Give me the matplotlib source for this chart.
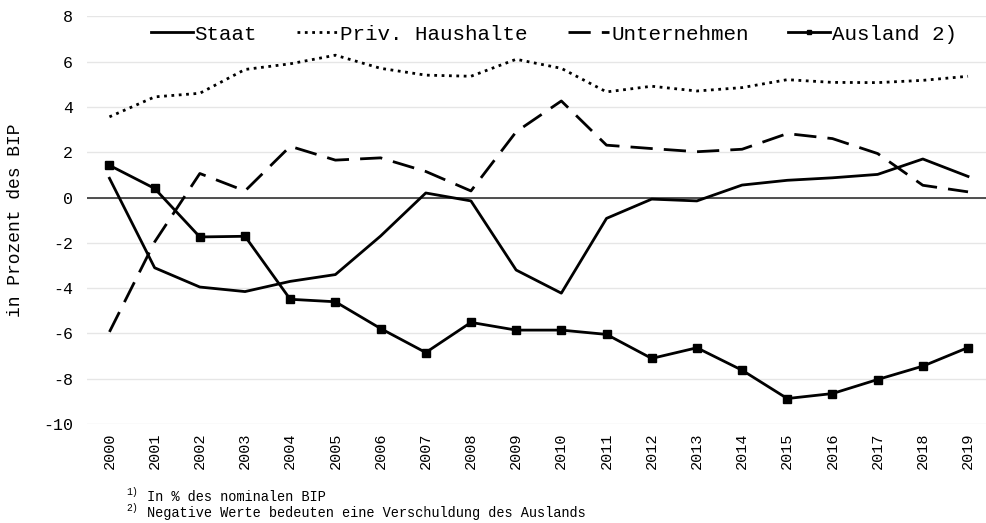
import matplotlib.pyplot as plt
import numpy as np

plt.rcParams['font.family'] = ['Liberation Mono', 'DejaVu Sans Mono']
plt.rcParams['axes.unicode_minus'] = False

jahre = [str(j) for j in range(2000, 2020)]
staat = [0.85, -3.1, -3.95, -4.15, -3.7, -3.4, -1.7, 0.2, -0.15, -3.2,
         -4.22, -0.92, -0.07, -0.15, 0.55, 0.76, 0.87, 1.02, 1.7, 0.93]
haushalte = [3.56, 4.44, 4.6, 5.65, 5.9, 6.28, 5.7, 5.4, 5.35, 6.1,
             5.7, 4.66, 4.91, 4.7, 4.85, 5.2, 5.08, 5.07, 5.17, 5.35]
unternehmen = [-5.93, -1.96, 1.06, 0.29, 2.26, 1.65, 1.75, 1.15, 0.29, 2.9,
               4.26, 2.31, 2.16, 2.02, 2.13, 2.82, 2.6, 1.94, 0.54, 0.25]
ausland = [1.42, 0.4, -1.74, -1.71, -4.49, -4.6, -5.78, -6.84, -5.51, -5.85,
           -5.85, -6.04, -7.1, -6.63, -7.62, -8.87, -8.65, -8.03, -7.44, -6.62]

x = np.arange(len(jahre))

fig = plt.figure(figsize=(9.87, 5.23), dpi=100)
ax = fig.add_axes([0.088, 0.189, 0.912, 0.78])

# Gitter und Nulllinie
for v in range(-10, 9, 2):
    ax.axhline(v, color='#e6e6e6', linewidth=1, zorder=0)
ax.axhline(0, color='#333333', linewidth=1.2, zorder=1)

lw = 2.0
ax.plot(x, staat, '-', color='black', linewidth=lw, label='Staat')
ax.plot(x, haushalte, ':', color='black', linewidth=lw, label='Priv. Haushalte')
ax.plot(x, unternehmen, color='black', linewidth=lw, dashes=(8, 4), label='Unternehmen')
ax.plot(x, ausland, '-s', color='black', linewidth=lw, markersize=5.5, label='Ausland 2)')

ax.set_xlim(-0.5, 19.42)
ax.set_ylim(-10, 8)
ax.set_yticks(range(-10, 9, 2))
ax.set_xticks(x)
ax.set_xticklabels(jahre, rotation=90, fontsize=11)
ax.tick_params(axis='y', labelsize=12, length=0, pad=10)
ax.tick_params(axis='x', length=0, pad=6)
for s in ax.spines.values():
    s.set_visible(False)

ax.set_ylabel("in Prozent des BIP", fontsize=13, labelpad=14)

ax.legend(loc='center', bbox_to_anchor=(0.519, 0.956), ncol=4, frameon=False,
          fontsize=15, handlelength=2.0, handletextpad=0.1, columnspacing=1.9,
          markerscale=0.6)

# Fußnoten
fig.text(0.128, 0.050, "1)", fontsize=7, va='bottom')
fig.text(0.149, 0.036, "In % des nominalen BIP", fontsize=9.8, va='bottom')
fig.text(0.128, 0.020, "2)", fontsize=7, va='bottom')
fig.text(0.149, 0.006, "Negative Werte bedeuten eine Verschuldung des Auslands",
         fontsize=9.8, va='bottom')

fig.savefig("out.png", dpi=100)
